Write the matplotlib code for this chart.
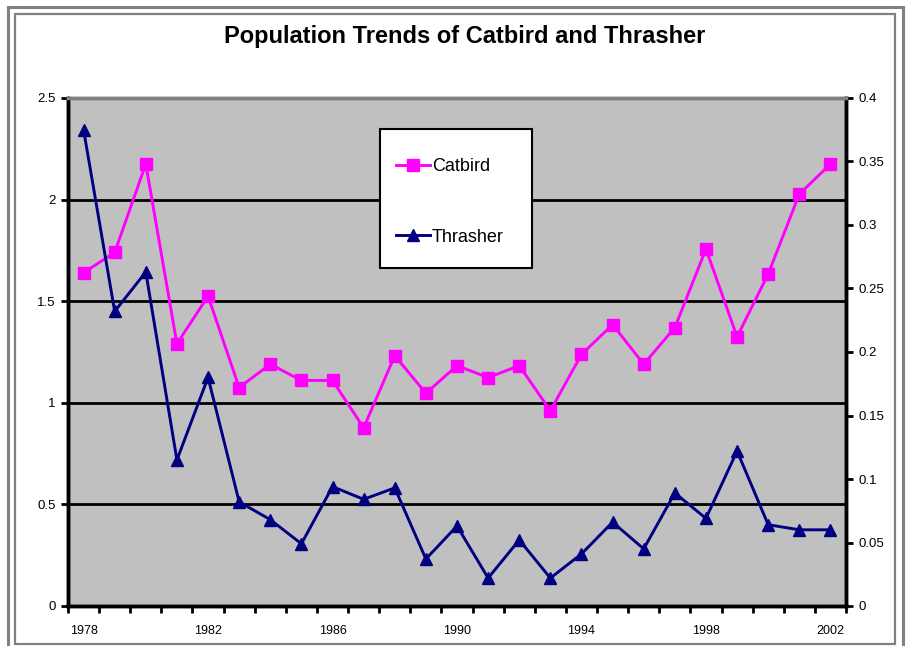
import matplotlib
matplotlib.use("Agg")
import matplotlib.pyplot as plt
from matplotlib.patches import Rectangle
import numpy as np

plt.rcParams['font.family'] = ['Liberation Sans', 'DejaVu Sans']

# Datos
anios = list(range(1978, 2003))
catbird = [1.64, 1.74, 2.175, 1.29, 1.525, 1.075, 1.19, 1.11, 1.11, 0.877,
           1.232, 1.047, 1.183, 1.124, 1.183, 0.961, 1.238, 1.385, 1.19, 1.37,
           1.757, 1.325, 1.634, 2.027, 2.175]
thrasher = [0.375, 0.232, 0.263, 0.115, 0.180, 0.082, 0.068, 0.049, 0.094, 0.084,
            0.093, 0.037, 0.063, 0.022, 0.052, 0.022, 0.041, 0.066, 0.045, 0.089,
            0.069, 0.122, 0.064, 0.060, 0.060]
etiquetas_x = [1978, 1982, 1986, 1990, 1994, 1998, 2002]
ticks_izq = [0, 0.5, 1, 1.5, 2, 2.5]
ticks_der = [0, 0.05, 0.1, 0.15, 0.2, 0.25, 0.3, 0.35, 0.4]

fig = plt.figure(figsize=(9.08, 6.46), dpi=100)

# Marco doble gris alrededor de la figura
W, H = 908, 646
fig.patches.append(Rectangle((8 / W, -10 / H), (903 - 8) / W, (646 - 6.5 + 10) / H,
                             transform=fig.transFigure, fill=False,
                             edgecolor='#808080', linewidth=2.2))
fig.patches.append(Rectangle((15 / W, (646 - 644) / H), (895 - 15) / W, (644 - 14) / H,
                             transform=fig.transFigure, fill=False,
                             edgecolor='#808080', linewidth=1.6))

ax = fig.add_axes([68 / W, 40 / H, (846 - 68) / W, (606 - 98) / H])
ax.set_facecolor('#C0C0C0')
ax2 = ax.twinx()

x = np.arange(len(anios))
l1, = ax.plot(x, catbird, color='#FF00FF', marker='s', markersize=8,
              linewidth=2.1, label='Catbird', zorder=3)
l2, = ax2.plot(x, thrasher, color='#000080', marker='^', markersize=8.5,
               linewidth=2.1, label='Thrasher', zorder=3)

# Ejes
ax.set_xlim(-0.5, len(anios) - 0.5)
ax.set_ylim(0, 2.5)
ax2.set_ylim(0, 0.4)
ax.set_yticks(ticks_izq)
ax.set_yticklabels([f'{v:g}' for v in ticks_izq])
ax2.set_yticks(ticks_der)
ax2.set_yticklabels([f'{v:g}' for v in ticks_der])

# Marcas entre categorias, etiquetas en cada categoria
ax.set_xticks(np.arange(-0.5, len(anios)))
ax.set_xticklabels([])
ax.set_xticks([anios.index(a) for a in etiquetas_x], minor=True)
ax.set_xticklabels([str(a) for a in etiquetas_x], minor=True)
ax.tick_params(axis='x', which='major', direction='out', length=5, width=2)
ax.tick_params(axis='x', which='minor', length=0, pad=14, labelsize=9)
ax.tick_params(axis='y', direction='out', length=5, width=2, labelsize=9.5, pad=4)
ax2.tick_params(axis='y', direction='out', length=5, width=2, labelsize=9.5, pad=4)

# Cuadricula negra
for v in ticks_izq[1:-1]:
    ax.axhline(v, color='black', linewidth=2, zorder=1)

for a in (ax, ax2):
    a.spines['left'].set_linewidth(2.5)
    a.spines['bottom'].set_linewidth(2.5)
    a.spines['right'].set_linewidth(2.5)
    a.spines['top'].set_color('#808080')
    a.spines['top'].set_linewidth(2.5)

fig.text(465 / W, 1 - 37 / H, 'Population Trends of Catbird and Thrasher',
         ha='center', va='center', fontsize=17, fontweight='bold')

# Caja de la leyenda
caja = Rectangle((380 / W, 1 - 268 / H), (532 - 380) / W, (268 - 129) / H,
                 transform=fig.transFigure, facecolor='white',
                 edgecolor='black', linewidth=1.5, zorder=9)
ax2.add_artist(caja)
caja.set_clip_on(False)

leg = ax2.legend([l1, l2], ['Catbird', 'Thrasher'], loc='center left',
                 bbox_to_anchor=(396 / W, 1 - 202 / H), bbox_transform=fig.transFigure,
                 fontsize=13, frameon=False, labelspacing=2.95, handlelength=1.9,
                 handletextpad=0.1, borderpad=0, borderaxespad=0)
leg.set_zorder(10)

fig.savefig('out.png', dpi=100)
